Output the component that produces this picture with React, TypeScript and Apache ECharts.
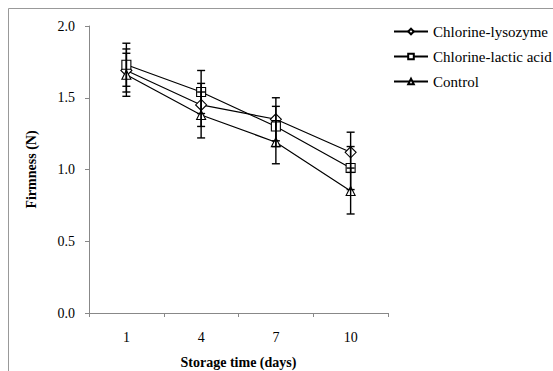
import React, { useEffect, useRef } from "react";
import * as echarts from "echarts";

const categories = ["1", "4", "7", "10"];
const seriesNames = ["Chlorine-lysozyme", "Chlorine-lactic acid", "Control"];
const lysozyme = [1.69, 1.45, 1.35, 1.12];
const lactic = [1.73, 1.54, 1.3, 1.01];
const control = [1.66, 1.38, 1.19, 0.85];
const lysozymeErr = [0.15, 0.15, 0.15, 0.14];
const lacticErr = [0.15, 0.15, 0.14, 0.15];
const controlErr = [0.15, 0.16, 0.15, 0.16];
const symbols = ["diamond", "rect", "triangle"];
const symbolSizes = [11, 9, 9];

const FONT = "Liberation Serif, Times New Roman, serif";

export default function App() {
  const ref = useRef<HTMLDivElement>(null);
  useEffect(() => {
    if (!ref.current) return;
    const chart = echarts.init(ref.current, undefined, { renderer: "svg" });
    const values = [lysozyme, lactic, control];
    const errs = [lysozymeErr, lacticErr, controlErr];
    const lineSeries = seriesNames.map((name, i) => ({
      name,
      type: "line",
      data: values[i],
      symbol: symbols[i],
      symbolSize: symbolSizes[i],
      showAllSymbol: true,
      lineStyle: { color: "#000", width: 1.2 },
      itemStyle: { color: "#fff", borderColor: "#000", borderWidth: 1.1 },
      z: 2,
    }));
    const errSeries = seriesNames.map((name, i) => ({
      name: name + " err",
      type: "custom",
      z: 3,
      silent: true,
      data: values[i].map((v, j) => [j, v - errs[i][j], v + errs[i][j]]),
      renderItem: (params: any, api: any) => {
        const x = api.value(0);
        const lo = api.coord([x, api.value(1)]);
        const hi = api.coord([x, api.value(2)]);
        const hw = 4;
        const style = { stroke: "#000", lineWidth: 1.4 };
        return {
          type: "group",
          children: [
            { type: "line", shape: { x1: lo[0], y1: lo[1], x2: hi[0], y2: hi[1] }, style },
            { type: "line", shape: { x1: lo[0] - hw, y1: lo[1], x2: lo[0] + hw, y2: lo[1] }, style },
            { type: "line", shape: { x1: hi[0] - hw, y1: hi[1], x2: hi[0] + hw, y2: hi[1] }, style },
          ],
        };
      },
    }));
    chart.setOption({
      animation: false,
      backgroundColor: "#fff",
      textStyle: { fontFamily: FONT },
      graphic: [
        {
          type: "rect",
          shape: { x: 8.5, y: 8.5, width: 700, height: 500 },
          style: { fill: "none", stroke: "#999", lineWidth: 1 },
          silent: true,
        },
      ],
      grid: { left: 89, top: 26, right: 165, bottom: 58, containLabel: false, outerBoundsMode: "none" },
      legend: {
        data: seriesNames,
        orient: "vertical",
        left: 393,
        top: 24,
        padding: 0,
        itemWidth: 34,
        itemHeight: 7,
        itemGap: 10,
        textStyle: { fontFamily: FONT, fontSize: 15, color: "#000" },
      },
      xAxis: {
        type: "category",
        data: categories,
        boundaryGap: true,
        name: "Storage time (days)",
        nameLocation: "middle",
        nameGap: 42,
        nameTextStyle: { fontFamily: FONT, fontSize: 14, fontWeight: "bold", color: "#000" },
        axisLine: { lineStyle: { color: "#888", width: 1 } },
        axisTick: { show: true, alignWithLabel: false, length: 4, lineStyle: { color: "#888" } },
        axisLabel: { fontFamily: FONT, fontSize: 14, color: "#000", margin: 17 },
        splitLine: { show: false },
      },
      yAxis: {
        type: "value",
        min: 0,
        max: 2,
        interval: 0.5,
        name: "Firmness (N)",
        nameLocation: "middle",
        nameGap: 51,
        nameRotate: 90,
        nameTextStyle: { fontFamily: FONT, fontSize: 14, fontWeight: "bold", color: "#000" },
        axisLine: { show: true, lineStyle: { color: "#888", width: 1 } },
        axisTick: { show: true, length: 4, lineStyle: { color: "#888" } },
        axisLabel: { fontFamily: FONT, fontSize: 14, color: "#000", margin: 14, formatter: (v: number) => v.toFixed(1) },
        splitLine: { show: false },
      },
      series: [...lineSeries, ...errSeries],
    });
    return () => chart.dispose();
  }, []);
  return (
    <div
      ref={ref}
      style={{ position: "fixed", left: 0, top: 0, width: 553, height: 371, background: "#fff" }}
    />
  );
}
